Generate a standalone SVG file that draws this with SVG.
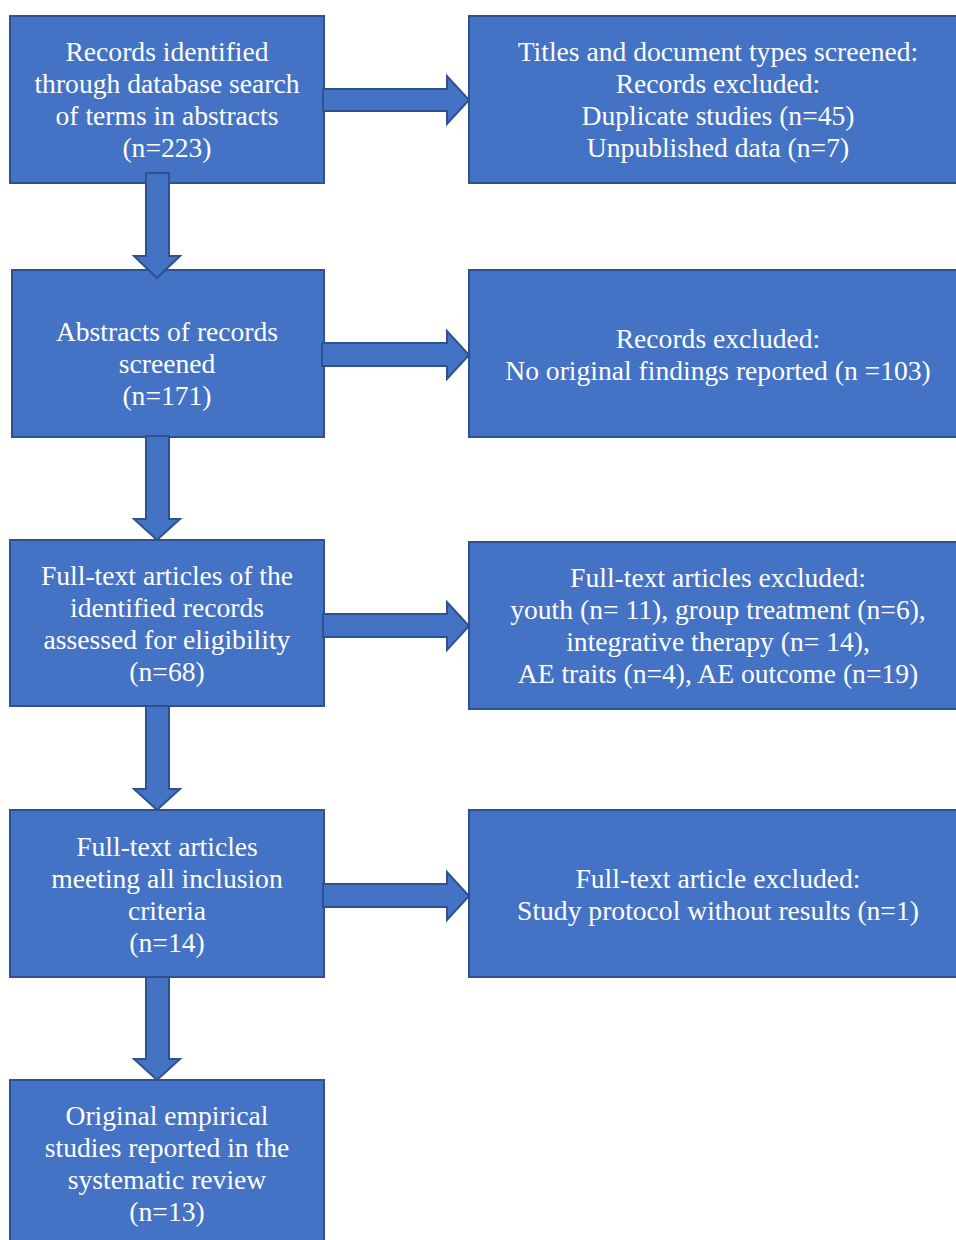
<svg xmlns="http://www.w3.org/2000/svg" width="956" height="1240" viewBox="0 0 956 1240">
<style>
.box{fill:#4472C4;stroke:#2F528F;stroke-width:2}
.arr{fill:#4472C4;stroke:#2F528F;stroke-width:2;stroke-linejoin:miter}
text{font-family:"Liberation Serif","Times New Roman",serif;font-size:27.6px;fill:#FFFFFF;text-anchor:middle}
</style>
<rect width="956" height="1240" fill="#FFFFFF"/>
<g id="n1"><rect class="box" x="10" y="16" width="314" height="167"/>
<text x="167" y="61">Records identified</text><text x="167" y="93">through database search</text><text x="167" y="125">of terms in abstracts</text><text x="167" y="157">(n=223)</text></g>
<g id="e1"><rect class="box" x="469" y="16" width="500" height="167"/>
<text x="718" y="61">Titles and document types screened:</text><text x="718" y="93">Records excluded:</text><text x="718" y="125">Duplicate studies (n=45)</text><text x="718" y="157">Unpublished data (n=7)</text></g>
<g id="n2"><rect class="box" x="12" y="270" width="312" height="167"/>
<text x="167" y="341">Abstracts of records</text><text x="167" y="373">screened</text><text x="167" y="405">(n=171)</text></g>
<g id="e2"><rect class="box" x="469" y="270" width="500" height="167"/>
<text x="718" y="348">Records excluded:</text><text x="718" y="380">No original findings reported (n =103)</text></g>
<g id="n3"><rect class="box" x="10" y="540" width="314" height="166"/>
<text x="167" y="585">Full-text articles of the</text><text x="167" y="617">identified records</text><text x="167" y="649">assessed for eligibility</text><text x="167" y="681">(n=68)</text></g>
<g id="e3"><rect class="box" x="469" y="542" width="500" height="167"/>
<text x="718" y="587">Full-text articles excluded:</text><text x="718" y="619">youth (n= 11), group treatment (n=6),</text><text x="718" y="651">integrative therapy (n= 14),</text><text x="718" y="683">AE traits (n=4), AE outcome (n=19)</text></g>
<g id="n4"><rect class="box" x="10" y="810" width="314" height="167"/>
<text x="167" y="856">Full-text articles</text><text x="167" y="888">meeting all inclusion</text><text x="167" y="920">criteria</text><text x="167" y="952">(n=14)</text></g>
<g id="e4"><rect class="box" x="469" y="810" width="500" height="167"/>
<text x="718" y="888">Full-text article excluded:</text><text x="718" y="920">Study protocol without results (n=1)</text></g>
<g id="n5"><rect class="box" x="10" y="1080" width="314" height="170"/>
<text x="167" y="1125">Original empirical</text><text x="167" y="1157">studies reported in the</text><text x="167" y="1189">systematic review</text><text x="167" y="1221">(n=13)</text></g>
<g id="connectors">
<polygon class="arr" points="323,89 447,89 447,76 469,100 447,124 447,111 323,111"/>
<polygon class="arr" points="322,343 447,343 447,331 469,355 447,379 447,366 322,366"/>
<polygon class="arr" points="323,614 447,614 447,602 469,626 447,650 447,637 323,637"/>
<polygon class="arr" points="323,884 447,884 447,872 469,896 447,920 447,907 323,907"/>
<polygon class="arr" points="146,173 169,173 169,256 180,256 157,278 134,256 146,256"/>
<polygon class="arr" points="146,436 169,436 169,519 180,519 157,540 134,519 146,519"/>
<polygon class="arr" points="146,706 169,706 169,789 180,789 157,810 134,789 146,789"/>
<polygon class="arr" points="146,977 169,977 169,1059 180,1059 157,1080 134,1059 146,1059"/>
</g>
</svg>
